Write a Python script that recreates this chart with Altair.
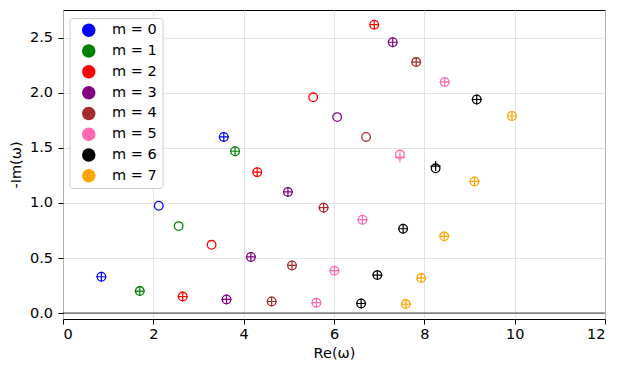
import altair as alt
import pandas as pd

labels = ["m = 0", "m = 1", "m = 2", "m = 3", "m = 4", "m = 5", "m = 6", "m = 7"]
colors = ["blue", "green", "red", "purple", "brown", "hotpink", "black", "orange"]

# open circles
m_circle = [0, 0, 0,
            1, 1, 1,
            2, 2, 2, 2, 2,
            3, 3, 3, 3, 3,
            4, 4, 4, 4, 4,
            5, 5, 5, 5, 5,
            6, 6, 6, 6, 6,
            7, 7, 7, 7, 7]
re_circle = [0.85, 2.12, 3.56,
             1.70, 2.56, 3.81,
             2.65, 3.29, 4.30, 5.54, 6.89,
             3.62, 4.16, 4.98, 6.07, 7.30,
             4.62, 5.07, 5.77, 6.71, 7.82,
             5.61, 6.01, 6.63, 7.46, 8.45,
             6.60, 6.96, 7.53, 8.25, 9.16,
             7.59, 7.93, 8.44, 9.11, 9.94]
im_circle = [0.33, 0.975, 1.60,
             0.20, 0.79, 1.47,
             0.15, 0.62, 1.28, 1.96, 2.62,
             0.124, 0.51, 1.10, 1.78, 2.46,
             0.105, 0.433, 0.957, 1.60, 2.28,
             0.094, 0.385, 0.848, 1.44, 2.10,
             0.087, 0.345, 0.766, 1.315, 1.94,
             0.082, 0.318, 0.697, 1.196, 1.79]

# plus markers
m_plus = [0, 0,
          1, 1,
          2, 2, 2,
          3, 3, 3, 3,
          4, 4, 4, 4,
          5, 5, 5, 5, 5,
          6, 6, 6, 6, 6,
          7, 7, 7, 7, 7]
re_plus = [0.85, 3.56,
           1.70, 3.81,
           2.65, 4.30, 6.89,
           3.62, 4.16, 4.98, 7.30,
           4.62, 5.07, 5.77, 7.82,
           5.61, 6.01, 6.63, 7.46, 8.45,
           6.60, 6.96, 7.53, 8.25, 9.16,
           7.59, 7.93, 8.44, 9.11, 9.94]
im_plus = [0.33, 1.60,
           0.20, 1.47,
           0.15, 1.28, 2.62,
           0.124, 0.51, 1.10, 2.46,
           0.105, 0.433, 0.957, 2.28,
           0.094, 0.385, 0.848, 1.415, 2.10,
           0.087, 0.345, 0.766, 1.335, 1.94,
           0.082, 0.318, 0.697, 1.196, 1.79]

x_ticks = [0, 2, 4, 6, 8, 10, 12]
y_ticks = [0.0, 0.5, 1.0, 1.5, 2.0, 2.5]

df_c = pd.DataFrame({"m": [labels[i] for i in m_circle], "re": re_circle, "im": im_circle})
df_p = pd.DataFrame({"m": [labels[i] for i in m_plus], "re": re_plus, "im": im_plus})
df_zero = pd.DataFrame({"y": [0.0]})

FONT = "DejaVu Sans"
FS = 14.5
xs = alt.Scale(domain=[0, 12], nice=False, zero=False)
ys = alt.Scale(domain=[-0.054, 2.753], nice=False, zero=False)
cs = alt.Scale(domain=labels, range=colors)

x_enc = alt.X("re:Q", scale=xs, title="Re(ω)",
              axis=alt.Axis(values=x_ticks, format="d", tickSize=5, labelPadding=3,
                            titlePadding=6))
y_enc = alt.Y("im:Q", scale=ys, title="-Im(ω)",
              axis=alt.Axis(values=y_ticks, format=".1f", tickSize=5, labelPadding=5.5,
                            titlePadding=6))

zero = alt.Chart(df_zero).mark_rule(color="black", strokeWidth=1, opacity=0.8).encode(
    y=alt.Y("y:Q", scale=ys)
)

legend_layer = alt.Chart(df_c).mark_point(shape="circle", filled=True, opacity=0).encode(
    x=x_enc, y=y_enc,
    color=alt.Color("m:N", scale=cs, legend=alt.Legend(
        title=None, orient="none", legendX=6.5, legendY=8, fillColor="white",
        strokeColor="#cccccc", cornerRadius=3, padding=5,
        symbolType="circle", symbolSize=182, symbolOpacity=1,
        symbolOffset=7, labelOffset=16, labelFontSize=FS, labelFont=FONT,
        rowPadding=5.8, symbolStrokeWidth=0))
)

circles = alt.Chart(df_c).mark_point(shape="circle", filled=False, size=74, strokeWidth=1.3,
                                     opacity=1).encode(
    x=x_enc, y=y_enc,
    color=alt.Color("m:N", scale=cs, legend=None)
)

plus = alt.Chart(df_p).mark_point(shape="M-1,0H1M0,-1V1", filled=False, size=100,
                                  strokeWidth=1.2, opacity=1).encode(
    x=x_enc, y=y_enc,
    color=alt.Color("m:N", scale=cs, legend=None)
)

chart = alt.layer(zero, legend_layer, circles, plus).properties(
    width=542, height=309,
    padding={"left": 0, "top": 2, "right": 5, "bottom": 5}
).configure(
    font=FONT
).configure_view(
    stroke="black", strokeWidth=1
).configure_axis(
    grid=True, gridColor="#dddddd", gridWidth=0.8, domain=False,
    tickColor="black", labelColor="black", titleColor="black",
    labelFont=FONT, titleFont=FONT,
    labelFontSize=FS, titleFontSize=FS, titleFontWeight="normal"
).configure_legend(
    labelFont=FONT
)

chart.save("out.html", embed_options={"renderer": "svg", "actions": False})
